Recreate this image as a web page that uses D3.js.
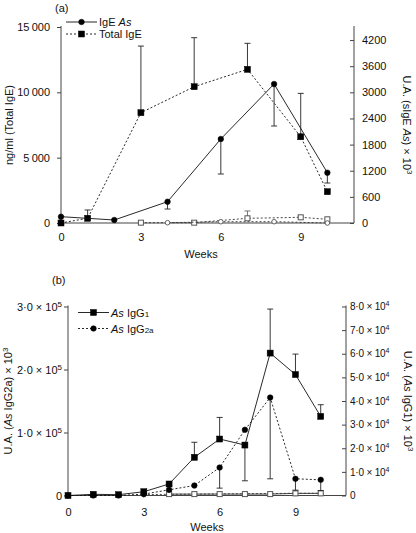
<!DOCTYPE html>
<html><head><meta charset="utf-8">
<script src="https://cdn.jsdelivr.net/npm/d3@7"></script>
<style>body{margin:0;background:#fff}svg{display:block}text{font-family:"Liberation Sans",Arial,sans-serif;fill:#111}</style>
</head><body><svg id="c" width="416" height="533"></svg>
<script>
// ---------- Panel (a) data ----------
const weeksTotal = [0, 1, 3, 5, 7, 9, 10];
const totalIgE = [0, 360, 8440, 10430, 11760, 6600, 2395];
const totalIgEErrUp = [0, 635, 5100, 3750, 1990, 3320, 0];
const weeksSIgE = [0, 2, 4, 6, 8, 10];
const sIgE = [145, 69, 489, 1929, 3191, 1155];
const sIgEErrDown = [0, 0, 168, 804, 964, 237];
const weeksCtrlSqA = [3, 5, 7, 9, 10];
const ctrlTotalIgE = [25, 25, 360, 435, 283];
const ctrlTotalIgEErrUp = [0, 0, 560, 90, 0];
const weeksCtrlCircA = [4, 6, 8, 10];
const ctrlSIgE = [7, 30, 30, 0];
const ticksA_left = [0, 5000, 10000, 15000];
const ticksA_right = [0, 600, 1200, 1800, 2400, 3000, 3600, 4200];
const ticksWeeks = [0, 3, 6, 9];

// ---------- Panel (b) data ----------
const weeksB = [0, 1, 2, 3, 4, 5, 6, 7, 8, 9, 10];
const igG1 = [0, 500, 350, 1600, 4870, 16170, 23900, 21350, 60280, 51200, 33470];
const igG1ErrUp = [0, 0, 0, 0, 0, 6360, 9150, 0, 18640, 8660, 4960];
const igG1ErrDown = [0, 0, 0, 0, 0, 0, 0, 15120, 0, 0, 0];
const igG2a = [0, 0, 0, 2200, 9000, 15900, 44400, 104300, 155500, 26500, 24900];
const igG2aErrDown = [0, 0, 0, 0, 0, 0, 32700, 0, 129000, 18000, 17000];
const weeksCtrlSqB = [4, 5, 6, 7, 8, 9, 10];
const ctrlIgG1 = [600, 600, 600, 600, 600, 900, 900];
const weeksCtrlCircB = [3, 9, 10];
const ctrlIgG2a = [1500, 3500, 3500];
const ticksB_left = [0, 100000, 200000, 300000];
const ticksB_right = [0, 10000, 20000, 30000, 40000, 50000, 60000, 70000, 80000];

const svg = d3.select("#c");
const AX = "#444";
const FS = 11;

function sci(sel, v, exp, fs) {
  if (v === 0) { sel.text("0"); return; }
  const m = v / Math.pow(10, exp);
  sel.append("tspan").text(m.toFixed(1).replace(".", "·") + " × 10");
  sel.append("tspan").attr("dy", -4).attr("font-size", fs - 3).text(exp);
}

function panel(cfg) {
  const g = svg.append("g");
  const x = d3.scaleLinear().domain([0, 11]).range([cfg.x0, cfg.x1]);
  const yL = d3.scaleLinear().domain(cfg.leftDom).range([cfg.yb, cfg.yt]);
  const yR = d3.scaleLinear().domain(cfg.rightDom).range([cfg.yb, cfg.yt]);

  const la = g.append("g").attr("transform", `translate(${cfg.x0},0)`)
    .call(d3.axisLeft(yL).tickValues(cfg.leftTicks).tickSize(4).tickPadding(cfg.leftPad));
  const ra = g.append("g").attr("transform", `translate(${cfg.x1},0)`)
    .call(d3.axisRight(yR).tickValues(cfg.rightTicks).tickSize(-4).tickPadding(cfg.rightPad).tickFormat(d3.format("d")));
  const ba = g.append("g").attr("transform", `translate(0,${cfg.yb})`)
    .call(d3.axisBottom(x).tickValues(ticksWeeks).tickSize(0).tickPadding(cfg.bottomPad).tickFormat(d3.format("d")));
  [la, ra, ba].forEach(a => {
    a.selectAll("path,line").attr("stroke", AX);
    a.selectAll("text").attr("font-size", FS).attr("font-family", '"Liberation Sans",Arial,sans-serif').attr("fill", "#111");
  });
  la.select(".domain").attr("d", `M0,${cfg.yb}V${cfg.yt - 1}`);
  ra.select(".domain").attr("d", `M0,${cfg.yb}V${cfg.yt - 1}`);
  ba.select(".domain").attr("d", `M${cfg.x0},0H${cfg.x1}`);
  if (cfg.leftFmt) la.selectAll(".tick text").each(function (d) { const s = d3.select(this); s.text(null); cfg.leftFmt(s, d); });
  if (cfg.rightFmt) ra.selectAll(".tick text").each(function (d) { const s = d3.select(this); s.text(null); cfg.rightFmt(s, d); });
  if (cfg.leftSpaced) la.selectAll(".tick text").text(d => d === 0 ? "0" : d3.format(",")(d).replace(",", "\u2009"));

  return { g, x, yL, yR, la, ra };
}

function series(p, xs, ys, y, opt) {
  const g = p.g;
  const line = d3.line().x((d, i) => p.x(xs[i])).y(d => y(d));
  g.append("path").datum(ys).attr("d", line).attr("fill", "none")
    .attr("stroke", opt.lineColor || "#111").attr("stroke-width", 0.9)
    .attr("stroke-dasharray", opt.dash ? "2,2" : null);
  const cw = 3;
  const ec = opt.errColor || "#222";
  ys.forEach((v, i) => {
    const cx = p.x(xs[i]);
    const ups = opt.errUp ? opt.errUp[i] : 0;
    const dns = opt.errDown ? opt.errDown[i] : 0;
    [[ups, 1], [dns, -1]].forEach(([e, s]) => {
      if (e > 0) {
        const ye = y(v + s * e);
        g.append("line").attr("x1", cx).attr("x2", cx).attr("y1", y(v)).attr("y2", ye).attr("stroke", ec).attr("stroke-width", 0.9);
        g.append("line").attr("x1", cx - cw).attr("x2", cx + cw).attr("y1", ye).attr("y2", ye).attr("stroke", ec).attr("stroke-width", 0.9);
      }
    });
  });
  ys.forEach((v, i) => marker(g, p.x(xs[i]), y(v), opt.shape, opt.open));
}

function marker(g, cx, cy, shape, open) {
  if (shape === "sq") {
    const s = open ? 5 : 6;
    g.append("rect").attr("x", cx - s / 2).attr("y", cy - s / 2).attr("width", s).attr("height", s)
      .attr("fill", open ? "#fff" : "#000").attr("stroke", open ? "#555" : "#000").attr("stroke-width", open ? 1 : 0.5);
  } else {
    g.append("circle").attr("cx", cx).attr("cy", cy).attr("r", open ? 2.3 : 2.8)
      .attr("fill", open ? "#fff" : "#000").attr("stroke", open ? "#555" : "#000").attr("stroke-width", open ? 0.9 : 0.5);
  }
}

function legendRow(g, x, y, shape, dash, build) {
  g.append("line").attr("x1", x).attr("x2", x + 31).attr("y1", y).attr("y2", y)
    .attr("stroke", "#111").attr("stroke-width", 0.9).attr("stroke-dasharray", dash ? "2,2" : null);
  marker(g, x + 15.5, y, shape, false);
  const t = g.append("text").attr("x", x + 33).attr("y", y + 4).attr("font-size", FS);
  build(t);
}

// ---------- Panel (a) ----------
const pa = panel({
  x0: 61, x1: 354, yb: 223, yt: 27,
  leftDom: [0, 15000], rightDom: [0, 4500],
  leftTicks: ticksA_left, rightTicks: ticksA_right, leftPad: 7, rightPad: 8, bottomPad: 10,
  leftSpaced: true
});
series(pa, weeksCtrlSqA, ctrlTotalIgE, pa.yL, { shape: "sq", open: true, dash: true, lineColor: "#333", errUp: ctrlTotalIgEErrUp, errColor: "#666" });
series(pa, weeksCtrlCircA, ctrlSIgE, pa.yR, { shape: "c", open: true, dash: true, lineColor: "#333" });
series(pa, weeksTotal, totalIgE, pa.yL, { shape: "sq", dash: true, errUp: totalIgEErrUp });
series(pa, weeksSIgE, sIgE, pa.yR, { shape: "c", dash: false, errDown: sIgEErrDown });

pa.g.append("text").attr("x", 55).attr("y", 12).attr("font-size", FS).text("(a)");
legendRow(pa.g, 66, 22, "c", false, t => { t.append("tspan").text("IgE "); t.append("tspan").attr("font-style", "italic").text("As"); });
legendRow(pa.g, 66, 34, "sq", true, t => t.text("Total IgE"));
pa.g.append("text").attr("x", 201).attr("y", 258).attr("text-anchor", "middle").attr("font-size", FS).text("Weeks");
pa.g.append("text").attr("transform", "translate(13,125) rotate(-90)").attr("text-anchor", "middle").attr("font-size", FS).text("ng/ml (Total IgE)");
{
  const t = pa.g.append("text").attr("transform", "translate(403,125) rotate(90)").attr("text-anchor", "middle").attr("font-size", FS);
  t.append("tspan").text("U.A. (sIgE ");
  t.append("tspan").attr("font-style", "italic").text("As");
  t.append("tspan").text(") × 10");
  t.append("tspan").attr("dy", -4).attr("font-size", 8).text("3");
}

// ---------- Panel (b) ----------
const pb = panel({
  x0: 68, x1: 346, yb: 495.5, yt: 306.5,
  leftDom: [0, 300000], rightDom: [0, 80000],
  leftTicks: ticksB_left, rightTicks: ticksB_right, leftPad: 2, rightPad: 4, bottomPad: 13,
  leftFmt: (s, d) => sci(s, d, 5, 11),
  rightFmt: (s, d) => sci(s, d, 4, 10)
});
pb.ra.selectAll(".tick text").attr("font-size", 10).attr("letter-spacing", -0.2);
series(pb, weeksCtrlCircB, ctrlIgG2a, pb.yL, { shape: "c", open: true, dash: true, lineColor: "#333" });
series(pb, weeksCtrlSqB, ctrlIgG1, pb.yR, { shape: "sq", open: true, dash: false, lineColor: "#333" });
series(pb, weeksB, igG2a, pb.yL, { shape: "c", dash: true, errDown: igG2aErrDown });
series(pb, weeksB, igG1, pb.yR, { shape: "sq", dash: false, errUp: igG1ErrUp, errDown: igG1ErrDown });

pb.g.append("text").attr("x", 52).attr("y", 284).attr("font-size", FS).text("(b)");
legendRow(pb.g, 78, 312.5, "sq", false, t => {
  t.append("tspan").attr("font-style", "italic").text("As");
  t.append("tspan").text(" IgG");
  t.append("tspan").attr("font-size", 8).text("1");
});
legendRow(pb.g, 78, 328.5, "c", true, t => {
  t.append("tspan").attr("font-style", "italic").text("As");
  t.append("tspan").text(" IgG");
  t.append("tspan").attr("font-size", 8).text("2a");
});
pb.g.append("text").attr("x", 207).attr("y", 531).attr("text-anchor", "middle").attr("font-size", FS).text("Weeks");
{
  const t = pb.g.append("text").attr("transform", "translate(12,401) rotate(-90)").attr("text-anchor", "middle").attr("font-size", FS);
  t.append("tspan").text("U.A. (");
  t.append("tspan").attr("font-style", "italic").text("As");
  t.append("tspan").text(" IgG2a) × 10");
  t.append("tspan").attr("dy", -4).attr("font-size", 8).text("3");
}
{
  const t = pb.g.append("text").attr("transform", "translate(404,401) rotate(90)").attr("text-anchor", "middle").attr("font-size", FS);
  t.append("tspan").text("U.A. (");
  t.append("tspan").attr("font-style", "italic").text("As");
  t.append("tspan").text(" IgG1) × 10");
  t.append("tspan").attr("dy", -4).attr("font-size", 8).text("3");
}
</script></body></html>
